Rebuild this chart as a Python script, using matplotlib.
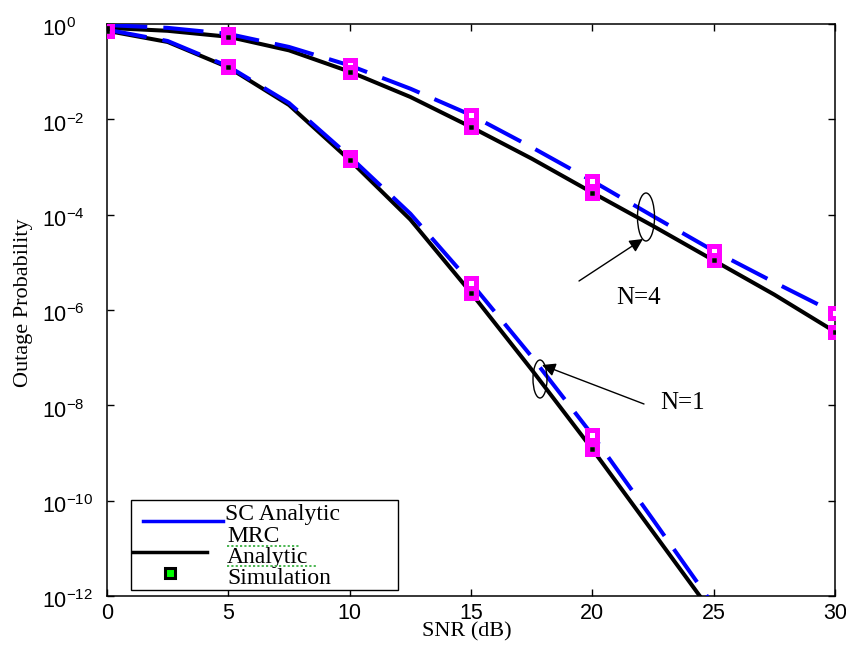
import numpy as np
import matplotlib
matplotlib.use("Agg")
import matplotlib.pyplot as plt
from matplotlib.lines import Line2D
from matplotlib.patches import Ellipse, Rectangle
from matplotlib.ticker import FixedLocator, FixedFormatter
from matplotlib.transforms import ScaledTranslation

plt.rcParams['mathtext.fontset'] = 'custom'
plt.rcParams['mathtext.rm'] = 'Liberation Sans'
plt.rcParams['mathtext.it'] = 'Liberation Sans:italic'
plt.rcParams['mathtext.bf'] = 'Liberation Sans:bold'

# ---------------- data ----------------
snr = [0, 2.5, 5, 7.5, 10, 12.5, 15, 17.5, 20, 22.5, 25, 27.5, 30]

mrc_n4 = [0.83, 0.72, 0.54, 0.28, 0.10, 2.95e-2, 6.9e-3, 1.5e-3, 2.9e-4,
          5.8e-5, 1.1e-5, 2.1e-6, 3.5e-7]
sc_n4 = [0.95, 0.83, 0.62, 0.33, 0.135, 4.4e-2, 1.23e-2, 2.6e-3, 5.1e-4,
         9.3e-5, 1.74e-5, 3.8e-6, 8.7e-7]

snr_n1 = [0, 2.5, 5, 7.5, 10, 12.5, 15, 17.5, 20, 22.5, 25]
mrc_n1 = [0.72, 0.42, 0.123, 2.0e-2, 1.4e-3, 7.9e-5, 2.3e-6, 5.6e-8, 1.2e-9,
          2.2e-11, 4.0e-13]
sc_n1 = [0.76, 0.44, 0.129, 2.2e-2, 1.66e-3, 1.05e-4, 3.7e-6, 1.05e-7, 2.4e-9,
         4.0e-11, 6.3e-13]

sim_snr_n4 = [0, 5, 10, 15, 20, 25, 30]
sim_mrc_n4 = [0.83, 0.54, 0.10, 6.9e-3, 2.9e-4, 1.1e-5, 3.5e-7]
sim_sc_n4 = [0.95, 0.62, 0.135, 1.23e-2, 5.1e-4, 1.74e-5, 8.7e-7]

sim_snr_n1 = [0, 5, 10, 15, 20]
sim_mrc_n1 = [0.72, 0.123, 1.4e-3, 2.3e-6, 1.2e-9]
sim_sc_n1 = [0.76, 0.129, 1.66e-3, 3.7e-6, 2.4e-9]

xticks = [0, 5, 10, 15, 20, 25, 30]
yticks = [1e0, 1e-2, 1e-4, 1e-6, 1e-8, 1e-10, 1e-12]
ytick_labels = [r'$10^{0}$', r'$10^{-2}$', r'$10^{-4}$', r'$10^{-6}$',
                r'$10^{-8}$', r'$10^{-10}$', r'$10^{-12}$']

legend_labels = ['SC Analytic', 'MRC', 'Analytic', 'Simulation']

# ---------------- figure ----------------
W, H = 846, 646
fig = plt.figure(figsize=(W / 100, H / 100), dpi=100)
L, R, T, B = 107, 835, 24, 596
ax = fig.add_axes([L / W, 1 - B / H, (R - L) / W, (B - T) / H])

def axx(px):
    return (px - L) / (R - L)

def axy(py):
    return (B - py) / (B - T)

blue = '#0000FF'
mag = '#FF00FF'
dash = (10, 4)
LW = 2.9

ax.plot(snr, mrc_n4, color='black', lw=LW, zorder=3)
ax.plot(snr_n1, mrc_n1, color='black', lw=LW, zorder=3)
ax.plot(snr, sc_n4, color=blue, lw=LW, dashes=dash, zorder=4)
ax.plot(snr_n1, sc_n1, color=blue, lw=LW, dashes=dash, zorder=4)

mk = dict(ls='none', marker='s', ms=7.0, mfc='white', mec=mag, mew=3.6, zorder=5)
ax.plot(sim_snr_n4, sim_sc_n4, **mk)
ax.plot(sim_snr_n4, sim_mrc_n4, **mk)
ax.plot(sim_snr_n1, sim_sc_n1, **mk)
ax.plot(sim_snr_n1, sim_mrc_n1, **mk)
dot = dict(ls='none', marker='s', ms=2.6, mfc='black', mec='black', mew=0.5, zorder=6)
ax.plot(sim_snr_n4, sim_mrc_n4, **dot)
ax.plot(sim_snr_n1, sim_mrc_n1, **dot)

ax.set_yscale('log')
ax.set_xlim(0, 30)
ax.set_ylim(1e-12, 1e0)
ax.xaxis.set_major_locator(FixedLocator(xticks))
ax.yaxis.set_major_locator(FixedLocator(yticks))
ax.yaxis.set_major_formatter(FixedFormatter(ytick_labels))
ax.yaxis.set_minor_locator(FixedLocator([]))
ax.tick_params(axis='both', which='major', direction='in', length=5, width=1,
               top=True, right=True, labelsize=15.5, color='black')
ax.tick_params(axis='x', pad=5)
ax.tick_params(axis='y', pad=47)
for lbl in ax.get_xticklabels():
    lbl.set_fontfamily('Liberation Sans')
for s in ax.spines.values():
    s.set_linewidth(1.1)

ax.set_xlabel('SNR (dB)', fontfamily='Liberation Serif', fontsize=16)
ax.xaxis.set_label_coords(0.4945, -0.0465)
ax.set_ylabel('Outage Probability', fontfamily='Liberation Serif', fontsize=16)
ax.yaxis.set_label_coords(-0.101, 0.512)

# ---- annotations ----
ax.add_patch(Ellipse((axx(646), axy(217)), 17 / (R - L), 48 / (B - T),
                     transform=ax.transAxes, fill=False, lw=1, ec='black', zorder=7))
ax.add_patch(Ellipse((axx(540), axy(379)), 14 / (R - L), 38 / (B - T),
                     transform=ax.transAxes, fill=False, lw=1, ec='black', zorder=7))
ap = dict(arrowstyle='-|>', lw=1, color='black', mutation_scale=20,
          shrinkA=0, shrinkB=0)
ax.annotate('', xy=(axx(643), axy(239)), xytext=(axx(579), axy(281)),
            xycoords='axes fraction', textcoords='axes fraction', arrowprops=ap)
ax.annotate('', xy=(axx(542), axy(365)), xytext=(axx(644), axy(404)),
            xycoords='axes fraction', textcoords='axes fraction', arrowprops=ap)
ax.text(axx(639), axy(298), 'N=4', transform=ax.transAxes, ha='center', va='center',
        fontfamily='Liberation Serif', fontsize=18)
ax.text(axx(683), axy(403), 'N=1', transform=ax.transAxes, ha='center', va='center',
        fontfamily='Liberation Serif', fontsize=18)

# ---- legend (drawn manually to match layout) ----
ax.add_patch(Rectangle((axx(131), axy(590)), (398 - 131) / (R - L), (590 - 500) / (B - T),
                       transform=ax.transAxes, fc='white', ec='black', lw=1, zorder=8))
ax.add_line(Line2D([axx(143), axx(223)], [axy(521), axy(521)], transform=ax.transAxes,
                   color=blue, lw=2.5, zorder=9))
ax.add_line(Line2D([axx(133), axx(207)], [axy(552), axy(552)], transform=ax.transAxes,
                   color='black', lw=2.5, zorder=9))
ax.add_line(Line2D([axx(170)], [axy(573)], transform=ax.transAxes, ls='none',
                   marker='s', ms=7.5, mfc='#00FF00', mec='black', mew=2.2, zorder=9))
leg_fs = 17
ax.text(axx(225), axy(520), legend_labels[0], transform=ax.transAxes, ha='left',
        va='baseline', fontfamily='Liberation Serif', fontsize=leg_fs, zorder=9)
ax.text(axx(227), axy(542), legend_labels[1], transform=ax.transAxes, ha='left',
        va='baseline', fontfamily='Liberation Serif', fontsize=leg_fs, zorder=9)
ax.text(axx(227), axy(563), legend_labels[2], transform=ax.transAxes, ha='left',
        va='baseline', fontfamily='Liberation Serif', fontsize=leg_fs, zorder=9)
ax.text(axx(227), axy(584), legend_labels[3], transform=ax.transAxes, ha='left',
        va='baseline', fontfamily='Liberation Serif', fontsize=leg_fs, zorder=9)
# green spell-check underlines
ax.add_line(Line2D([axx(227), axx(300)], [axy(546), axy(546)], transform=ax.transAxes,
                   color='#3cb043', lw=1.3, ls=(0, (1.2, 1.2)), zorder=9))
ax.add_line(Line2D([axx(227), axx(318)], [axy(566), axy(566)], transform=ax.transAxes,
                   color='#3cb043', lw=1.3, ls=(0, (1.2, 1.2)), zorder=9))

# left-align y tick labels (MATLAB style) and centre the base "10" on the tick
off = ScaledTranslation(0, -3 / 100, fig.dpi_scale_trans)
for lbl in ax.get_yticklabels():
    lbl.set_horizontalalignment('left')
    lbl.set_transform(lbl.get_transform() + off)

fig.savefig('out.png', dpi=100)
